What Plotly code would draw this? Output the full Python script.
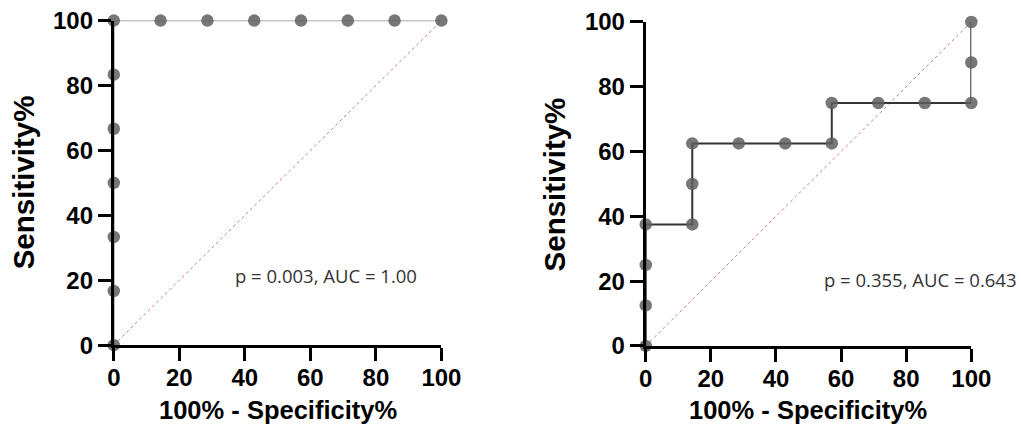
import plotly.graph_objects as go

# Left ROC
left_fpr = [0, 0, 0, 0, 0, 0, 0, 14.29, 28.57, 42.86, 57.14, 71.43, 85.71, 100]
left_tpr = [0, 16.67, 33.33, 50, 66.67, 83.33, 100, 100, 100, 100, 100, 100, 100, 100]
# Right ROC
right_fpr = [0, 0, 0, 0, 14.29, 14.29, 14.29, 28.57, 42.86, 57.14, 57.14, 71.43, 85.71, 100, 100, 100]
right_tpr = [0, 12.5, 25, 37.5, 37.5, 50, 62.5, 62.5, 62.5, 62.5, 75, 75, 75, 75, 87.5, 100]
diag = [0, 100]
ticks = [0, 20, 40, 60, 80, 100]
left_label = "p = 0.003, AUC = 1.00"
right_label = "p = 0.355, AUC = 0.643"
x_title = "100% - Specificity%"
y_title = "Sensitivity%"

W, H = 1021, 438


def px(x):
    return x / W


def py(y):
    return 1 - y / H


fig = go.Figure()

marker = dict(size=12.5, color="rgba(95,95,95,0.85)", line=dict(width=0))

fig.add_trace(go.Scatter(x=diag, y=diag, mode="lines", line=dict(color="#d47a7a", width=1, dash="dot"),
                         xaxis="x", yaxis="y", showlegend=False, hoverinfo="skip"))
fig.add_trace(go.Scatter(x=diag, y=diag, mode="lines", line=dict(color="#d47a7a", width=1, dash="dot"),
                         xaxis="x2", yaxis="y2", showlegend=False, hoverinfo="skip"))
fig.add_trace(go.Scatter(x=left_fpr, y=left_tpr, mode="lines+markers",
                         line=dict(color="#8a8a8a", width=1.5), marker=marker,
                         cliponaxis=False, xaxis="x", yaxis="y", showlegend=False))
fig.add_trace(go.Scatter(x=right_fpr, y=right_tpr, mode="lines+markers",
                         line=dict(color="#333333", width=2), marker=marker,
                         cliponaxis=False, xaxis="x2", yaxis="y2", showlegend=False))

tickfont = dict(family="Liberation Sans", size=24, color="black", weight="bold")
axis_common = dict(range=[0, 100], tickvals=ticks, showgrid=False, zeroline=False,
                   showline=True, linewidth=3, linecolor="black",
                   ticks="outside", ticklen=13, tickwidth=3, tickcolor="black",
                   tickfont=tickfont, ticklabeloverflow="allow")

fig.update_layout(
    width=W, height=H,
    margin=dict(l=0, r=0, t=0, b=0),
    paper_bgcolor="white", plot_bgcolor="white",
    xaxis=dict(domain=[px(109.7), px(446.2)], anchor="y", ticklabelstandoff=-4, **axis_common),
    yaxis=dict(domain=[py(352.9), py(7)], anchor="x", **axis_common),
    xaxis2=dict(domain=[px(656.1), px(990.5)], anchor="y2", ticklabelstandoff=-4, **axis_common),
    yaxis2=dict(domain=[py(353.7), py(8.5)], anchor="x2", **axis_common),
)

title_font_x = dict(family="Liberation Sans", size=25.5, color="black", weight="bold")
title_font_y = dict(family="Liberation Sans", size=29.5, color="black", weight="bold")

for xc in (277.9, 822.6):
    fig.add_annotation(text=x_title, xref="paper", yref="paper", x=px(xc), y=py(421.5),
                       xanchor="center", yanchor="middle", showarrow=False, font=title_font_x)
for xc, yc in ((16.4, 179.4), (562.0, 181.5)):
    fig.add_annotation(text=y_title, xref="paper", yref="paper", x=px(xc), y=py(yc),
                       xanchor="center", yanchor="middle", showarrow=False, textangle=-90,
                       font=title_font_y)

label_font = dict(family="Open Sans", size=18.5, color="#333333")
fig.add_annotation(text=left_label, xref="x", yref="y", x=36.3, y=21.4,
                   xanchor="left", yanchor="middle", showarrow=False, font=label_font)
fig.add_annotation(text=right_label, xref="x2", yref="y2", x=54.1, y=20.5,
                   xanchor="left", yanchor="middle", showarrow=False, font=label_font)

fig.write_html("out.html")
